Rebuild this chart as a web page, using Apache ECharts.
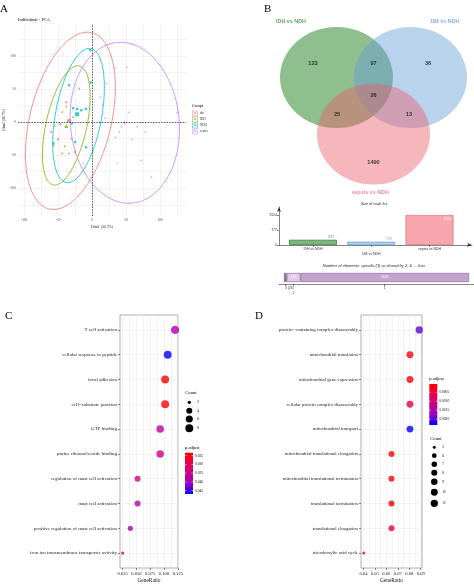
<!DOCTYPE html>
<html><head><meta charset="utf-8">
<script src="https://cdn.jsdelivr.net/npm/echarts@6/dist/echarts.min.js"></script>
<style>html,body{margin:0;padding:0;background:#fff}#c{width:474px;height:586px}</style>
</head><body><div id="c"></div>
<script>
// ================= DATA =================
// Panel A: PCA individuals
const pcaGroups = ['dm', 'IDH', 'NDH', 'sepsis'];
const pcaDm = [[-57,-35],[-50,-26],[-47,-3],[-38,30],[-25,-45],[-60,-15]];
const pcaIdh = [[-19,51],[-38,24],[-44,16],[-40,-36],[-34,-47],[-44,-47],[-30,-25],[-55,-5],[-28,8]];
const pcaNdh = [[-3,109],[-34,56],[-28,21],[-22,20],[-16,18],[-9,20],[-9,-38],[-57,-32],[-25,-30],[-2,60],[-30,-2]];
const pcaSepsis = [[34,82],[51,83],[21,59],[12,38],[15,26],[54,15],[125,15],[19,6],[43,-7],[66,-7],[72,-1],[40,-15],[78,-15],[34,-23],[59,-26],[37,-62],[72,-58],[87,-83],[-13,-62]];
const pcaMeans = [[-34,2],[-38,-6],[-22,12],[48,-1]];
// ellipse: centre x, centre y, semi-major, semi-minor, angle (deg)
const pcaEllipses = [[-32,2,137,60,77],[-38,-5,92,30,78],[-20,10,103,34,80],[48,-1,122,80,95]];
const pcaTickLabels = [-100,-50,0,50,100];
const pcaGridX = [-100,-75,-50,-25,0,25,50,75,100,125];
const pcaGridY = [-125,-100,-75,-50,-25,0,25,50,75,100,125];

// Panel B: Venn
const vennSets = ['IDH vs NDH', 'DM vs NDH', 'sepsis vs NDH'];
const vennRegions = [['IDH'],['DM'],['sepsis'],['IDH','DM'],['IDH','sepsis'],['DM','sepsis'],['IDH','DM','sepsis']];
const vennCounts = [123, 36, 1490, 97, 25, 13, 26];
const vennKeys = ['IDH', 'DM', 'sepsis'];
const barTicks = [0, 777, 1554];

// Panel C
const cTerms = ['T cell activation','cellular response to peptide','focal adhesion','cell\u2212substrate junction','GTP binding','purine ribonucleoside binding','regulation of mast cell activation','mast cell activation','positive regulation of mast cell activation','iron ion transmembrane transporter activity'];
const cGeneRatio = [0.120, 0.1066, 0.1020, 0.1020, 0.0930, 0.0930, 0.0520, 0.0520, 0.0390, 0.0250];
const cCount = [9, 8, 8, 8, 7, 7, 4, 4, 3, 2];
const cPadj = [0.0385, 0.0469, 0.0235, 0.0240, 0.0362, 0.0340, 0.0327, 0.0373, 0.0397, 0.0330];
const cTicks = [0.025, 0.050, 0.075, 0.100, 0.125];
const cGrid = [0.025,0.0375,0.05,0.0625,0.075,0.0875,0.1,0.1125,0.125];
const cCountLegend = [2, 4, 6, 8];
const cPLegend = [0.025, 0.030, 0.035, 0.040, 0.045];

// Panel D
const dTerms = ['protein\u2212containing complex disassembly','mitochondrial translation','mitochondrial gene expression','cellular protein complex disassembly','mitochondrial transport','mitochondrial translational elongation','mitochondrial translational termination','translational termination','translational elongation','tricarboxylic acid cycle'];
const dGeneRatio = [0.0887, 0.0806, 0.0806, 0.0806, 0.0806, 0.0645, 0.0645, 0.0645, 0.0645, 0.0403];
const dCount = [11, 10, 10, 10, 10, 8, 8, 8, 8, 5];
const dPadj = [0.00194, 0.00014, 0.00014, 0.00060, 0.00232, 0.00008, 0.00008, 0.00010, 0.00050, 0.00070];
const dTicks = [0.04, 0.05, 0.06, 0.07, 0.08, 0.09];
const dGrid = [0.04,0.045,0.05,0.055,0.06,0.065,0.07,0.075,0.08,0.085,0.09];
const dCountLegend = [5, 6, 7, 8, 9, 10, 11];
const dPLegend = [0.0005, 0.0010, 0.0015, 0.0020];

// ================= STYLE / LAYOUT =================
const SERIF = '"Liberation Serif","DejaVu Serif",serif';
const SANS = '"Liberation Sans","DejaVu Sans",Arial,sans-serif';
const groupColors = ['#F8766D', '#7CAE00', '#00BFC4', '#C77CFF'];
const groupSymbols = ['circle', 'triangle', 'rect', 'path://M0.4,0H0.6V0.4H1V0.6H0.6V1H0.4V0.6H0V0.4H0.4Z'];
const palette = ['#ff0000', '#e80050', '#c90089', '#9a00c2', '#0000ff'];
const vennFill = ['rgba(42,131,42,0.66)', 'rgba(97,155,213,0.55)', 'rgba(235,90,102,0.55)'];
const vennText = ['#3d8c3d', '#6a9fd6', '#e8727c'];
const vennCenters = [[-0.655, 1.119], [0.655, 1.119], [0, 0]];
const vennNumPos = [[-1.071,1.406],[0.965,1.406],[0,-0.554],[0,1.406],[-0.646,0.396],[0.628,0.396],[0,0.772]];
const vennSetPos = [[-1.46,2.218],[1.265,2.218],[-0.06,-1.149]];
const barFill = ['rgba(80,160,80,0.75)', 'rgba(150,195,238,0.75)', 'rgba(245,150,158,0.85)'];
const barBorder = ['#3a7f3a', '#6fa6dc', '#e07882'];
const cPRange = [0.0233, 0.0469];
const dPRange = [0.00004, 0.00232];
const sizeC = c => 3.3 + 5.0 * Math.sqrt((c - 2) / 7);
const sizeD = c => 3.0 + 4.3 * Math.sqrt((c - 5) / 6);
const cCountY = [402.3, 410.7, 419, 428.3];
const dCountY = [447.3, 455.7, 464.3, 472.7, 481.7, 492.3, 503.3];

// ================= DERIVED =================
const listSizes = vennKeys.map(k => vennRegions.reduce((s, r, i) => s + (r.includes(k) ? vennCounts[i] : 0), 0));
const sharedBy = [3, 2, 1].map(n => vennRegions.reduce((s, r, i) => s + (r.length === n ? vennCounts[i] : 0), 0));
const segCenters = [];
{ let acc = 0; sharedBy.forEach(v => { segCenters.push(acc + v / 2); acc += v; }); }

// ================= CHART =================
const chart = echarts.init(document.getElementById('c'), null, {renderer: 'canvas'});
const series = [];
const G = [];

function txt(x, y, text, st) {
  return {type: 'text', x: x, y: y, silent: true, z: 100,
    style: Object.assign({text: text, fill: '#000', fontFamily: SERIF, fontSize: 5, align: 'left', verticalAlign: 'middle'}, st || {})};
}

// ---- Panel A ----
series.push({
  type: 'custom', xAxisIndex: 0, yAxisIndex: 0, silent: true, clip: true,
  data: pcaEllipses,
  renderItem: function (params, api) {
    const cx = api.value(0), cy = api.value(1), a = api.value(2), b = api.value(3), ang = api.value(4) * Math.PI / 180;
    const pts = [];
    for (let i = 0; i <= 120; i++) {
      const t = i / 120 * 2 * Math.PI;
      const x = cx + a * Math.cos(t) * Math.cos(ang) - b * Math.sin(t) * Math.sin(ang);
      const y = cy + a * Math.cos(t) * Math.sin(ang) + b * Math.sin(t) * Math.cos(ang);
      pts.push(api.coord([x, y]));
    }
    return {type: 'polyline', shape: {points: pts}, style: {fill: 'none', stroke: groupColors[params.dataIndex], lineWidth: 0.8}};
  }
});
[pcaDm, pcaIdh, pcaNdh, pcaSepsis].forEach((pts, gi) => {
  series.push({type: 'scatter', xAxisIndex: 0, yAxisIndex: 0, silent: true, symbol: groupSymbols[gi], symbolSize: 2.3,
    itemStyle: {color: groupColors[gi]}, data: pts,
    markLine: gi === 0 ? {silent: true, symbol: 'none', label: {show: false},
      lineStyle: {color: '#222', type: [1.5, 1.2], width: 0.7},
      data: [{xAxis: 0}, {yAxis: 0}]} : undefined});
});
series.push({type: 'scatter', xAxisIndex: 0, yAxisIndex: 0, silent: true,
  data: pcaMeans.map((p, i) => ({value: p, symbol: groupSymbols[i], itemStyle: {color: groupColors[i]}})), symbolSize: 4});

// ---- Panel B Venn ----
series.push({type: 'scatter', xAxisIndex: 1, yAxisIndex: 1, silent: true, symbol: 'circle', symbolSize: [113, 101],
  data: vennCenters.map((c, i) => ({value: c, itemStyle: {color: vennFill[i]}}))});
series.push({type: 'scatter', xAxisIndex: 1, yAxisIndex: 1, silent: true, symbolSize: 0,
  data: vennNumPos.map((p, i) => ({value: p, label: {show: true, position: 'inside', formatter: String(vennCounts[i]),
    color: '#111', fontSize: 5.6, fontWeight: 'bold', fontFamily: SANS}}))});
series.push({type: 'scatter', xAxisIndex: 1, yAxisIndex: 1, silent: true, symbolSize: 0,
  data: vennSetPos.map((p, i) => ({value: p, label: {show: true, position: 'inside', formatter: vennSets[i],
    color: vennText[i], fontSize: 5.4, fontWeight: 'bold', fontFamily: SANS}}))});

// ---- Panel B bar: size of each list ----
const barLabelCfg = [
  {position: 'top', distance: 1, offset: [18, 0], color: '#3a7f3a'},
  {position: 'top', distance: 1, offset: [18, 0], color: '#6fa6dc'},
  {position: 'insideTop', distance: 2, offset: [18, 0], color: '#ffffff'}
];
series.push({type: 'bar', xAxisIndex: 2, yAxisIndex: 2, silent: true, barWidth: 48,
  data: listSizes.map((v, i) => ({value: [i + 1, v],
    itemStyle: {color: barFill[i], borderColor: barBorder[i], borderWidth: 0.8},
    label: Object.assign({show: true, formatter: String(v), fontSize: 3.6, fontFamily: SANS}, barLabelCfg[i])}))});

// ---- Panel B stacked shared bar ----
const segFill = ['#8d7092', '#e2c9e7', '#c8a2ce'];
sharedBy.forEach((v, i) => {
  const lab = i > 0
    ? {show: true, position: 'inside', formatter: String(v), color: '#fff', fontSize: 3.4, fontFamily: SANS}
    : {show: true, position: 'bottom', distance: 5, offset: [4, 0], formatter: '3 (' + v + ')', color: '#333', fontSize: 3.4, fontFamily: SANS};
  series.push({type: 'bar', xAxisIndex: 3, yAxisIndex: 3, stack: 'sh', silent: true, barWidth: 9,
    itemStyle: {color: segFill[i], borderColor: '#7f6386', borderWidth: 0.6},
    label: lab, data: [v]});
});

// ---- Panel C ----
const cIdx = series.length;
series.push({type: 'scatter', xAxisIndex: 4, yAxisIndex: 4, silent: true,
  data: cGeneRatio.map((r, i) => [r, i, cCount[i], cPadj[i]]),
  symbolSize: v => sizeC(v[2])});
// ---- Panel D ----
const dIdx = series.length;
series.push({type: 'scatter', xAxisIndex: 6, yAxisIndex: 5, silent: true,
  data: dGeneRatio.map((r, i) => [r, i, dCount[i], dPadj[i]]),
  symbolSize: v => sizeD(v[2])});

// ---- axes ----
const gridLine = {show: true, lineStyle: {color: '#ebebeb', width: 0.6}};
function catY(grid, terms, fs) {
  return {gridIndex: grid, type: 'value', inverse: true, min: -0.6, max: 9.6,
    axisLine: {show: false},
    axisTick: {show: true, length: 2, customValues: terms.map((t, i) => i), lineStyle: {color: '#333', width: 0.6}},
    axisLabel: {customValues: terms.map((t, i) => i), formatter: v => terms[v], fontSize: fs, color: '#1a1a1a', fontFamily: SERIF, margin: 3},
    splitLine: gridLine};
}
function gridX(grid, mn, mx, vals) {
  return {gridIndex: grid, type: 'value', min: mn, max: mx, axisLine: {show: false},
    axisTick: {show: false, customValues: vals}, axisLabel: {show: false}, splitLine: gridLine};
}
function labX(grid, mn, mx, vals, dec) {
  return {gridIndex: grid, type: 'value', min: mn, max: mx, position: 'bottom', axisLine: {show: false},
    axisTick: {show: true, length: 2, customValues: vals, lineStyle: {color: '#333', width: 0.6}},
    axisLabel: {customValues: vals, formatter: v => v.toFixed(dec), fontSize: 4.6, color: '#222', fontFamily: SERIF, margin: 3},
    splitLine: {show: false},
    name: 'GeneRatio', nameLocation: 'middle', nameGap: 10, nameTextStyle: {fontSize: 5.4, fontFamily: SERIF, color: '#111'}};
}

const xAxis = [
  {gridIndex: 0, type: 'value', min: -109, max: 138, axisLine: {show: false},
    axisTick: {show: false, customValues: pcaGridX},
    axisLabel: {customValues: pcaTickLabels, fontSize: 3.4, color: '#4d4d4d', fontFamily: SERIF, margin: 3},
    splitLine: gridLine,
    name: 'Dim1 (30.7%)', nameLocation: 'middle', nameGap: 9, nameTextStyle: {fontSize: 3.8, fontFamily: SERIF, color: '#222'}},
  {gridIndex: 1, type: 'value', min: -2.416, max: 1.779, show: false},
  {gridIndex: 2, type: 'value', min: 0.4163, max: 3.7296,
    axisLine: {show: true, onZero: false, symbol: ['none', 'arrow'], symbolSize: [3, 5], lineStyle: {color: '#333', width: 0.6}},
    axisTick: {show: true, length: 2, customValues: [1, 2, 3], lineStyle: {color: '#333', width: 0.6}},
    axisLabel: {customValues: [1, 2, 3], formatter: v => (v === 2 ? '\n' : '') + vennSets[v - 1], fontSize: 3.5, lineHeight: 5, color: '#333', fontFamily: SANS, margin: 2},
    splitLine: {show: false}},
  {gridIndex: 3, type: 'value', min: -48.9, max: 1858.9, offset: 2,
    axisLine: {show: true, onZero: false, lineStyle: {color: '#333', width: 0.6}},
    axisTick: {show: true, length: 2, customValues: segCenters, lineStyle: {color: '#333', width: 0.6}},
    axisLabel: {customValues: segCenters.slice(1), fontSize: 3.4, lineHeight: 4.5, color: '#333', fontFamily: SANS, margin: 2,
      formatter: v => { const i = segCenters.indexOf(v); return (i === 1 ? '\n' : '') + (3 - i); }},
    splitLine: {show: false}},
  gridX(4, 0.0202, 0.1253, cGrid),
  labX(4, 0.0202, 0.1253, cTicks, 3),
  gridX(5, 0.0379, 0.0911, dGrid),
  labX(5, 0.0379, 0.0911, dTicks, 2)
];
const yAxis = [
  {gridIndex: 0, type: 'value', min: -142, max: 148.5, axisLine: {show: false},
    axisTick: {show: false, customValues: pcaGridY},
    axisLabel: {customValues: pcaTickLabels, fontSize: 3.4, color: '#4d4d4d', fontFamily: SERIF, margin: 2},
    splitLine: gridLine,
    name: 'Dim2 (16.7%)', nameLocation: 'middle', nameGap: 9, nameRotate: 90, nameTextStyle: {fontSize: 3.8, fontFamily: SERIF, color: '#222'}},
  {gridIndex: 1, type: 'value', min: -1.307, max: 2.653, show: false},
  {gridIndex: 2, type: 'value', min: 0, max: 1968,
    axisLine: {show: true, onZero: false, symbol: ['none', 'arrow'], symbolSize: [3, 5], lineStyle: {color: '#333', width: 0.6}},
    axisTick: {show: true, length: 2, customValues: barTicks, lineStyle: {color: '#333', width: 0.6}},
    axisLabel: {customValues: barTicks, formatter: v => String(v), fontSize: 3.5, color: '#333', fontFamily: SANS, margin: 2},
    splitLine: {show: false}},
  {gridIndex: 3, type: 'category', data: ['n'], show: false},
  catY(4, cTerms, 5),
  catY(5, dTerms, 4.8)
];

const panelGrid = {show: true, borderColor: '#9a9a9a', borderWidth: 0.8, backgroundColor: '#fff'};
const grid = [
  {left: 18, top: 24, width: 168, height: 192},
  {left: 237, top: 0, width: 237, height: 200},
  {left: 279, top: 207, width: 193, height: 38},
  {left: 279, top: 273, width: 195, height: 9},
  Object.assign({left: 120, top: 315, width: 58, height: 253}, panelGrid),
  Object.assign({left: 361, top: 315, width: 61, height: 253}, panelGrid)
];

// ---- graphics: panel letters, titles, legends ----
G.push(txt(0, 9, 'A', {fontSize: 11}));
G.push(txt(264, 9, 'B', {fontSize: 11}));
G.push(txt(5, 316, 'C', {fontSize: 11}));
G.push(txt(255, 316, 'D', {fontSize: 11}));
G.push(txt(18, 20, 'Individuals - PCA', {fontSize: 4.4}));
G.push(txt(374, 204, 'Size of each list', {fontSize: 3.7, fontFamily: SANS, fontStyle: 'italic', align: 'center', fill: '#222'}));
G.push(txt(374, 266, 'Number of elements: specific (1) or shared by 2, 3, ... lists', {fontSize: 4, fontFamily: SANS, fontStyle: 'italic', align: 'center', fill: '#222'}));

// PCA legend
G.push(txt(192, 106, 'Groups', {fontSize: 3.8}));
pcaGroups.forEach((g, i) => {
  const y = 113.5 + i * 6;
  G.push({type: 'rect', silent: true, shape: {x: 192.5, y: y - 2.5, width: 5, height: 5}, style: {fill: '#fff', stroke: groupColors[i], lineWidth: 0.5}});
  G.push(txt(195, y, 'a', {fontSize: 3.4, fill: groupColors[i], align: 'center', fontWeight: 'bold'}));
  G.push(txt(200, y, g, {fontSize: 3.2, fill: '#333'}));
});

function colorbar(x, top, h, range, ticks, dec, titleY, title) {
  G.push(txt(x, titleY, title, {fontSize: 4.6}));
  G.push({type: 'rect', silent: true, shape: {x: x, y: top, width: 8, height: h},
    style: {fill: {type: 'linear', x: 0, y: 0, x2: 0, y2: 1, colorStops: palette.map((c, i) => ({offset: i / (palette.length - 1), color: c}))}}});
  ticks.forEach(v => {
    const y = top + (v - range[0]) / (range[1] - range[0]) * h;
    G.push({type: 'line', silent: true, shape: {x1: x, y1: y, x2: x + 1.6, y2: y}, style: {stroke: '#fff', lineWidth: 0.5}});
    G.push({type: 'line', silent: true, shape: {x1: x + 6.4, y1: y, x2: x + 8, y2: y}, style: {stroke: '#fff', lineWidth: 0.5}});
    G.push(txt(x + 10, y, v.toFixed(dec), {fontSize: 3.6}));
  });
}
function countLegend(x, titleY, counts, ys, sizeFn) {
  G.push(txt(x - 4, titleY, 'Count', {fontSize: 4.6}));
  counts.forEach((c, i) => {
    G.push({type: 'circle', silent: true, shape: {cx: x, cy: ys[i], r: sizeFn(c) / 2}, style: {fill: '#000'}});
    G.push(txt(x + 8, ys[i], String(c), {fontSize: 3.6}));
  });
}
countLegend(189.3, 393, cCountLegend, cCountY, sizeC);
colorbar(185, 452.7, 41.3, cPRange, cPLegend, 3, 447.3, 'p.adjust');
colorbar(429.3, 384, 41, dPRange, dPLegend, 4, 379, 'p.adjust');
countLegend(434.3, 438.3, dCountLegend, dCountY, sizeD);

const option = {
  animation: false,
  backgroundColor: '#ffffff',
  grid: grid,
  xAxis: xAxis,
  yAxis: yAxis,
  visualMap: [
    {type: 'continuous', show: false, seriesIndex: cIdx, dimension: 3, min: cPRange[0], max: cPRange[1], inRange: {color: palette}},
    {type: 'continuous', show: false, seriesIndex: dIdx, dimension: 3, min: dPRange[0], max: dPRange[1], inRange: {color: palette}}
  ],
  series: series,
  graphic: {elements: G}
};
chart.setOption(option);
</script></body></html>
